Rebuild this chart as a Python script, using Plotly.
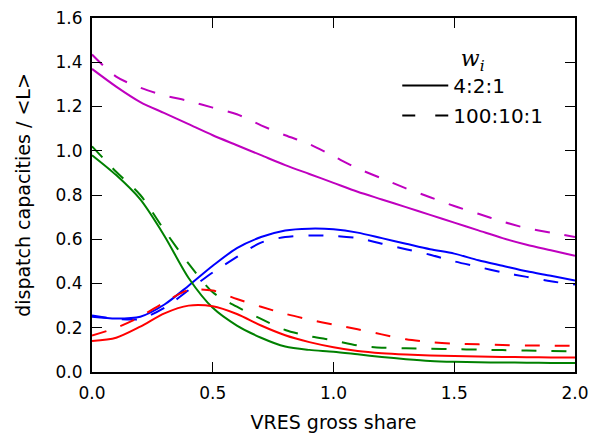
import plotly.graph_objects as go

x = [0.0, 0.1, 0.2, 0.3, 0.4, 0.5, 0.6, 0.7, 0.8, 0.9, 1.0,
     1.1, 1.2, 1.3, 1.4, 1.5, 1.6, 1.7, 1.8, 1.9, 2.0]

magenta_solid = [1.37, 1.29, 1.22, 1.17, 1.12, 1.07, 1.025, 0.98, 0.935, 0.895, 0.855,
                 0.815, 0.78, 0.745, 0.71, 0.675, 0.64, 0.605, 0.575, 0.55, 0.525]
magenta_dash = [1.435, 1.335, 1.285, 1.25, 1.225, 1.195, 1.165, 1.115, 1.07, 1.03, 0.975,
                0.92, 0.875, 0.83, 0.79, 0.75, 0.715, 0.68, 0.65, 0.63, 0.61]
blue_solid = [0.25, 0.242, 0.25, 0.305, 0.39, 0.48, 0.56, 0.61, 0.64, 0.648, 0.645,
              0.63, 0.605, 0.58, 0.555, 0.535, 0.505, 0.48, 0.455, 0.435, 0.414]
blue_dash = [0.255, 0.24, 0.24, 0.29, 0.37, 0.45, 0.52, 0.585, 0.61, 0.617, 0.615,
             0.605, 0.58, 0.555, 0.53, 0.5, 0.475, 0.45, 0.43, 0.41, 0.395]
green_solid = [0.98, 0.89, 0.78, 0.615, 0.425, 0.29, 0.21, 0.155, 0.115, 0.1, 0.092,
               0.08, 0.068, 0.058, 0.05, 0.046, 0.044, 0.043, 0.042, 0.041, 0.041]
green_dash = [1.02, 0.905, 0.80, 0.64, 0.49, 0.36, 0.295, 0.24, 0.19, 0.162, 0.143,
              0.12, 0.11, 0.107, 0.105, 0.103, 0.101, 0.099, 0.097, 0.095, 0.093]
red_solid = [0.14, 0.155, 0.205, 0.265, 0.30, 0.297, 0.262, 0.21, 0.166, 0.135, 0.112,
             0.095, 0.085, 0.079, 0.075, 0.072, 0.07, 0.068, 0.067, 0.066, 0.065]
red_dash = [0.165, 0.2, 0.25, 0.315, 0.37, 0.368, 0.33, 0.295, 0.263, 0.237, 0.214,
            0.193, 0.17, 0.148, 0.135, 0.128, 0.125, 0.122, 0.12, 0.119, 0.118]

legend_labels = ["4:2:1", "100:10:1"]
x_ticks = [0.0, 0.5, 1.0, 1.5, 2.0]
y_ticks = [0.0, 0.2, 0.4, 0.6, 0.8, 1.0, 1.2, 1.4, 1.6]

DASH = "15px,15px"
series = [
    (magenta_solid, "#bf00bf", "solid"),
    (magenta_dash, "#bf00bf", DASH),
    (blue_solid, "#0000ff", "solid"),
    (blue_dash, "#0000ff", DASH),
    (green_solid, "#008000", "solid"),
    (green_dash, "#008000", DASH),
    (red_solid, "#ff0000", "solid"),
    (red_dash, "#ff0000", DASH),
]

fig = go.Figure()
for ys, col, dash in series:
    fig.add_trace(go.Scatter(x=x, y=ys, mode="lines", showlegend=False,
                             line=dict(color=col, width=2, dash=dash,
                                       shape="spline", smoothing=0.8)))

for name, dash in zip(legend_labels, ["solid", "13px,20px"]):
    fig.add_trace(go.Scatter(x=[None], y=[None], mode="lines", name=name,
                             legendgroup=name,
                             line=dict(color="black", width=2, dash=dash)))

axis_common = dict(
    showline=True, linecolor="black", linewidth=2, mirror="ticks",
    ticks="inside", ticklen=10, tickwidth=1, tickcolor="black",
    showgrid=False, zeroline=False, tickformat=".1f", automargin=False,
    ticklabeloverflow="allow",
    tickfont=dict(family="DejaVu Sans", size=17, color="black"),
)

# page body adds an 8px offset; figure sized so the plot area lands where the reference has it
fig.update_layout(
    width=595, height=425,
    margin=dict(l=84, r=28, t=9.5, b=61.3),
    plot_bgcolor="white", paper_bgcolor="white",
    font=dict(family="DejaVu Sans", color="black"),
    xaxis=dict(range=[0, 2], tickvals=x_ticks, ticklabelstandoff=5,
               title=dict(text="VRES gross share", font=dict(size=19), standoff=14),
               **axis_common),
    yaxis=dict(range=[0, 1.6], tickvals=y_ticks, ticklabelstandoff=4,
               title=dict(text="dispatch capacities / &lt;L&gt;", font=dict(size=19), standoff=20),
               **axis_common),
    legend=dict(
        x=0.632, y=0.982, xanchor="left", yanchor="top",
        bgcolor="rgba(0,0,0,0)", borderwidth=0,
        font=dict(size=20, family="DejaVu Sans"),
        title=dict(text="<span style='font-size:22px'><i>w</i><sub><i>i</i></sub></span>",
                   side="top center",
                   font=dict(size=32, family="DejaVu Serif")),
        tracegroupgap=1, itemwidth=46,
    ),
)

fig.write_html("out.html")
